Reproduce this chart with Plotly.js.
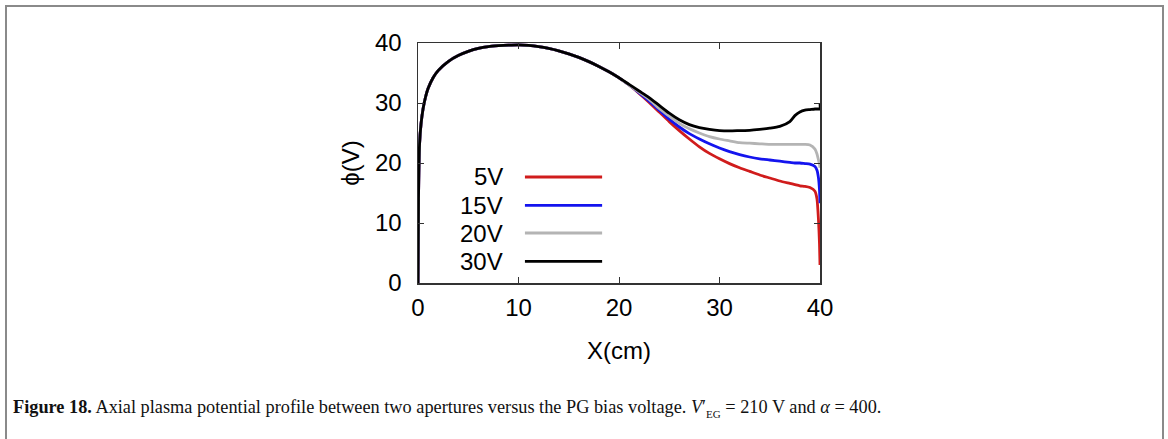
<!DOCTYPE html>
<html>
<head>
<meta charset="utf-8">
<script src="https://cdn.plot.ly/plotly-3.0.1.min.js"></script>
<style>
  html, body { margin: 0; padding: 0; background: #fff; }
  #wrap { position: relative; width: 1168px; height: 439px; overflow: hidden; }
  #frame { position: absolute; left: 5px; top: 5px; width: 1155px; height: 500px;
           border-left: 2px solid #8a8a8a; border-top: 2px solid #8a8a8a; border-right: 2px solid #8a8a8a;
           pointer-events: none; }
  #plot { position: absolute; left: 0; top: 0; width: 1168px; height: 439px; }
  #caption { position: absolute; left: 13px; top: 397px; font-family: "Liberation Serif", "DejaVu Serif", serif;
             font-size: 18.3px; color: #111; white-space: nowrap; }
</style>
</head>
<body>
<div id="wrap">
  <div id="plot"></div>
  <div id="frame"></div>
  <div id="caption"><b>Figure 18.</b> Axial plasma potential profile between two apertures versus the PG bias voltage. <i>V</i>′<sub style="font-size:11px">EG</sub> = 210 V and <i>α</i> = 400.</div>
</div>
<script>
// Shared rising part (all four curves coincide up to x = 20 cm)
const xCommon = [0, 0.05, 0.15, 0.3, 0.5, 0.75, 1, 1.5, 2, 3, 4, 5, 6, 7, 8, 9, 10, 11, 12, 13, 14, 15, 16, 17, 18, 19, 20];
const yCommon = [0, 14, 23, 26.5, 29, 31, 32.4, 34.2, 35.4, 36.9, 37.9, 38.6, 39.1, 39.4, 39.55, 39.65, 39.7, 39.6, 39.4, 39.1, 38.7, 38.2, 37.6, 36.9, 36.1, 35.2, 34.2];

// Diverging part (x in cm)
const xTail = [21, 22, 23, 24, 25, 26, 27, 28, 29, 30, 31, 32, 33, 34, 35, 36, 37, 37.5, 38, 38.5, 39, 39.5, 39.7, 39.85, 39.95, 40];
const y5V  = [33.0, 31.6, 30.1, 28.5, 26.9, 25.4, 24.0, 22.7, 21.6, 20.7, 19.9, 19.2, 18.6, 18.0, 17.5, 17.0, 16.6, 16.4, 16.2, 16.1, 15.9, 15.3, 14.0, 10.5, 6.5, 3.0];
const y15V = [33.0, 31.7, 30.3, 28.8, 27.3, 26.0, 24.9, 24.0, 23.2, 22.5, 21.9, 21.4, 21.0, 20.7, 20.5, 20.3, 20.1, 20.0, 20.0, 19.9, 19.8, 19.4, 18.8, 17.5, 15.5, 13.3];
const y20V = [33.0, 31.8, 30.6, 29.1, 27.8, 26.6, 25.7, 25.0, 24.4, 24.0, 23.7, 23.4, 23.3, 23.2, 23.1, 23.1, 23.1, 23.1, 23.1, 23.1, 23.0, 22.3, 21.5, 20.5, 19.8, 19.2];
const xTail30 = [21, 22, 23, 24, 25, 26, 27, 28, 29, 30, 31, 32, 33, 34, 35, 36, 37, 37.5, 38, 38.5, 39, 39.5, 39.7, 39.85, 40, 40];
const y30V = [33.1, 32.0, 30.9, 29.6, 28.3, 27.2, 26.4, 25.9, 25.6, 25.4, 25.35, 25.4, 25.45, 25.6, 25.8, 26.1, 26.9, 27.9, 28.5, 28.8, 28.9, 29.0, 29.0, 29.0, 29.0, 30.0];

const seriesNames = ['5V', '15V', '20V', '30V'];
const seriesColors = ['#d01c1c', '#1414ee', '#b4b4b4', '#000000'];
const xTicks = [0, 10, 20, 30, 40];
const yTicks = [0, 10, 20, 30, 40];

const tails = [[xTail, y5V], [xTail, y15V], [xTail, y20V], [xTail30, y30V]];
const traces = tails.map((t, i) => ({
  type: 'scatter', mode: 'lines', name: seriesNames[i],
  x: xCommon.concat(t[0]), y: yCommon.concat(t[1]),
  line: { color: seriesColors[i], width: 2.8, shape: 'spline', smoothing: 0.6 },
  hoverinfo: 'skip'
}));

const FONT = 'Liberation Sans, Arial, sans-serif';
// legend drawn gnuplot style: right-aligned label, line sample on its right
const legY = [0.4417, 0.3233, 0.2083, 0.0900];
const annotations = seriesNames.map((n, i) => ({
  xref: 'paper', yref: 'paper', x: 0.2164, y: legY[i], xanchor: 'right', yanchor: 'middle',
  text: n, showarrow: false, font: { family: FONT, size: 24, color: '#000' }
}));
const shapes = seriesNames.map((n, i) => ({
  type: 'line', xref: 'paper', yref: 'paper', x0: 0.266, x1: 0.458, y0: legY[i], y1: legY[i],
  line: { color: seriesColors[i], width: 2.8 }
}));

const axisCommon = {
  showgrid: false, zeroline: false, showline: true, mirror: 'ticks',
  linecolor: '#333', linewidth: 1.5, ticks: 'inside', ticklen: 6, tickwidth: 1, tickcolor: '#333',
  tickfont: { family: FONT, size: 24, color: '#000' }
};

const layout = {
  width: 1168, height: 439,
  margin: { l: 418, r: 348, t: 43, b: 156, pad: 0 },
  paper_bgcolor: 'rgba(0,0,0,0)', plot_bgcolor: '#fff',
  showlegend: false,
  xaxis: Object.assign({}, axisCommon, {
    range: [0, 40], tickvals: xTicks, ticktext: xTicks.map(String), ticklabelstandoff: 3,
    title: { text: 'X(cm)', font: { family: FONT, size: 24, color: '#000' }, standoff: 22 }
  }),
  yaxis: Object.assign({}, axisCommon, {
    range: [0, 40], tickvals: yTicks, ticktext: yTicks.map(String), ticklabelstandoff: 10,
    title: { text: 'ϕ(V)', font: { family: FONT, size: 24, color: '#000' }, standoff: 8 }
  }),
  annotations: annotations,
  shapes: shapes
};

Plotly.newPlot('plot', traces, layout, { staticPlot: true, displayModeBar: false });
</script>
</body>
</html>
